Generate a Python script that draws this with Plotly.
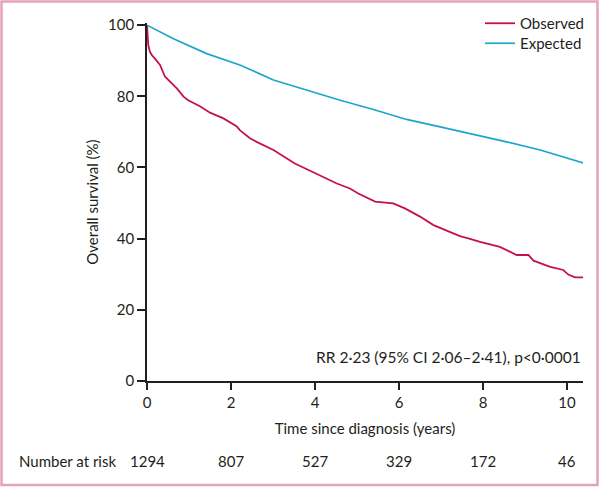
import plotly.graph_objects as go

# ---- data ----
obs_time = [0, 0.01, 0.03, 0.07, 0.12, 0.19, 0.31, 0.43, 0.55, 0.71, 0.87, 0.98, 1.26, 1.5,
            1.82, 2.13, 2.21, 2.45, 2.61, 3.01, 3.52, 4.04, 4.52, 4.83, 5.03, 5.43, 5.86,
            6.14, 6.5, 6.82, 7.29, 7.45, 7.65, 7.93, 8.40, 8.80, 9.08, 9.20, 9.60, 9.91,
            10.03, 10.19, 10.40]
obs_surv = [100, 97, 94.4, 92.5, 91.5, 90.6, 88.8, 85.5, 84.1, 82.2, 79.9, 78.9, 77.2, 75.4,
            73.8, 71.6, 70.5, 68.2, 67.2, 64.9, 61.1, 58.3, 55.5, 54.1, 52.7, 50.4, 49.9,
            48.5, 46.2, 43.8, 41.5, 40.7, 40.1, 39.1, 37.7, 35.4, 35.4, 33.8, 32.1, 31.2,
            29.9, 29.1, 29.1]

exp_time = [0, 0.63, 1.42, 2.21, 3.01, 3.80, 4.60, 5.39, 6.18, 6.98, 7.77, 8.56, 9.36, 10.43]
exp_surv = [100, 96.2, 92.0, 88.8, 84.6, 81.7, 78.9, 76.3, 73.5, 71.4, 69.4, 67.2, 64.9, 61.1]

risk_times = [0, 2, 4, 6, 8, 10]
risk_counts = ["1294", "807", "527", "329", "172", "46"]

x_ticks = [0, 2, 4, 6, 8, 10]
y_ticks = [0, 20, 40, 60, 80, 100]

FONT = "Lato"
TXT = "#231F20"
RED = "#C4134B"
BLUE = "#1DA5CA"

L, R, T, B = 147, 17, 23, 106
W, H = 600, 487
pw, ph = W - L - R, H - T - B


def px_x(p):
    return (p - L) / pw


def px_y(p):
    return (H - B - p) / ph


fig = go.Figure()
fig.add_trace(go.Scatter(x=obs_time, y=obs_surv, mode="lines", name="Observed",
                         line=dict(color=RED, width=1.8), legend="legend"))
fig.add_trace(go.Scatter(x=exp_time, y=exp_surv, mode="lines", name="Expected",
                         line=dict(color=BLUE, width=1.7), legend="legend2"))

annotations = [
    dict(text="RR 2·23 (95% CI 2·06–2·41), p<0·0001", xref="paper", yref="paper",
         x=1.0, y=px_y(357), xanchor="right", yanchor="middle", showarrow=False,
         font=dict(size=15.5, color=TXT, family=FONT)),
    dict(text="Number at risk", xref="paper", yref="paper", x=px_x(118), y=px_y(461),
         xanchor="right", yanchor="middle", showarrow=False,
         font=dict(size=15, color=TXT, family=FONT)),
]
for t, c in zip(risk_times, risk_counts):
    annotations.append(dict(text=c, xref="x", yref="paper", x=t, y=px_y(461),
                            xanchor="center", yanchor="middle", showarrow=False,
                            font=dict(size=15, color=TXT, family=FONT)))

leg_common = dict(xanchor="left", yanchor="top", bgcolor="rgba(0,0,0,0)",
                  font=dict(size=15, color=TXT, family=FONT))

fig.update_layout(
    width=W, height=H,
    margin=dict(l=L, r=R, t=T, b=B, autoexpand=False),
    paper_bgcolor="white", plot_bgcolor="white",
    font=dict(family=FONT, size=15, color=TXT),
    showlegend=True,
    legend=dict(x=px_x(480), y=px_y(7), **leg_common),
    legend2=dict(x=px_x(480), y=px_y(27), **leg_common),
    xaxis=dict(range=[0, 10.38], tickvals=x_ticks, ticktext=[str(v) for v in x_ticks],
               showline=True, linecolor=TXT, linewidth=1.6, ticks="outside", ticklen=7,
               tickwidth=1.5, tickcolor=TXT, showgrid=False, zeroline=False,
               tickfont=dict(size=15, color=TXT, family=FONT),
               title=dict(text="Time since diagnosis (years)", standoff=14,
                          font=dict(size=15, color=TXT, family=FONT))),
    yaxis=dict(range=[0, 100.6], tickvals=y_ticks, ticktext=[str(v) for v in y_ticks],
               showline=True, linecolor=TXT, linewidth=1.6, ticks="outside", ticklen=8,
               tickwidth=1.5, tickcolor=TXT, showgrid=False, zeroline=False,
               tickfont=dict(size=15, color=TXT, family=FONT),
               title=dict(text="Overall survival (%)", standoff=6,
                          font=dict(size=15, color=TXT, family=FONT))),
    annotations=annotations,
    shapes=[dict(type="rect", xref="paper", yref="paper",
                 x0=px_x(1.5), x1=px_x(597.5), y0=px_y(485), y1=px_y(1.5),
                 line=dict(color="#E6A2B6", width=2.5), fillcolor="rgba(0,0,0,0)",
                 layer="below")],
)

fig.write_html("out.html", config={"displayModeBar": False},
               post_script="document.body.style.margin='0';")
